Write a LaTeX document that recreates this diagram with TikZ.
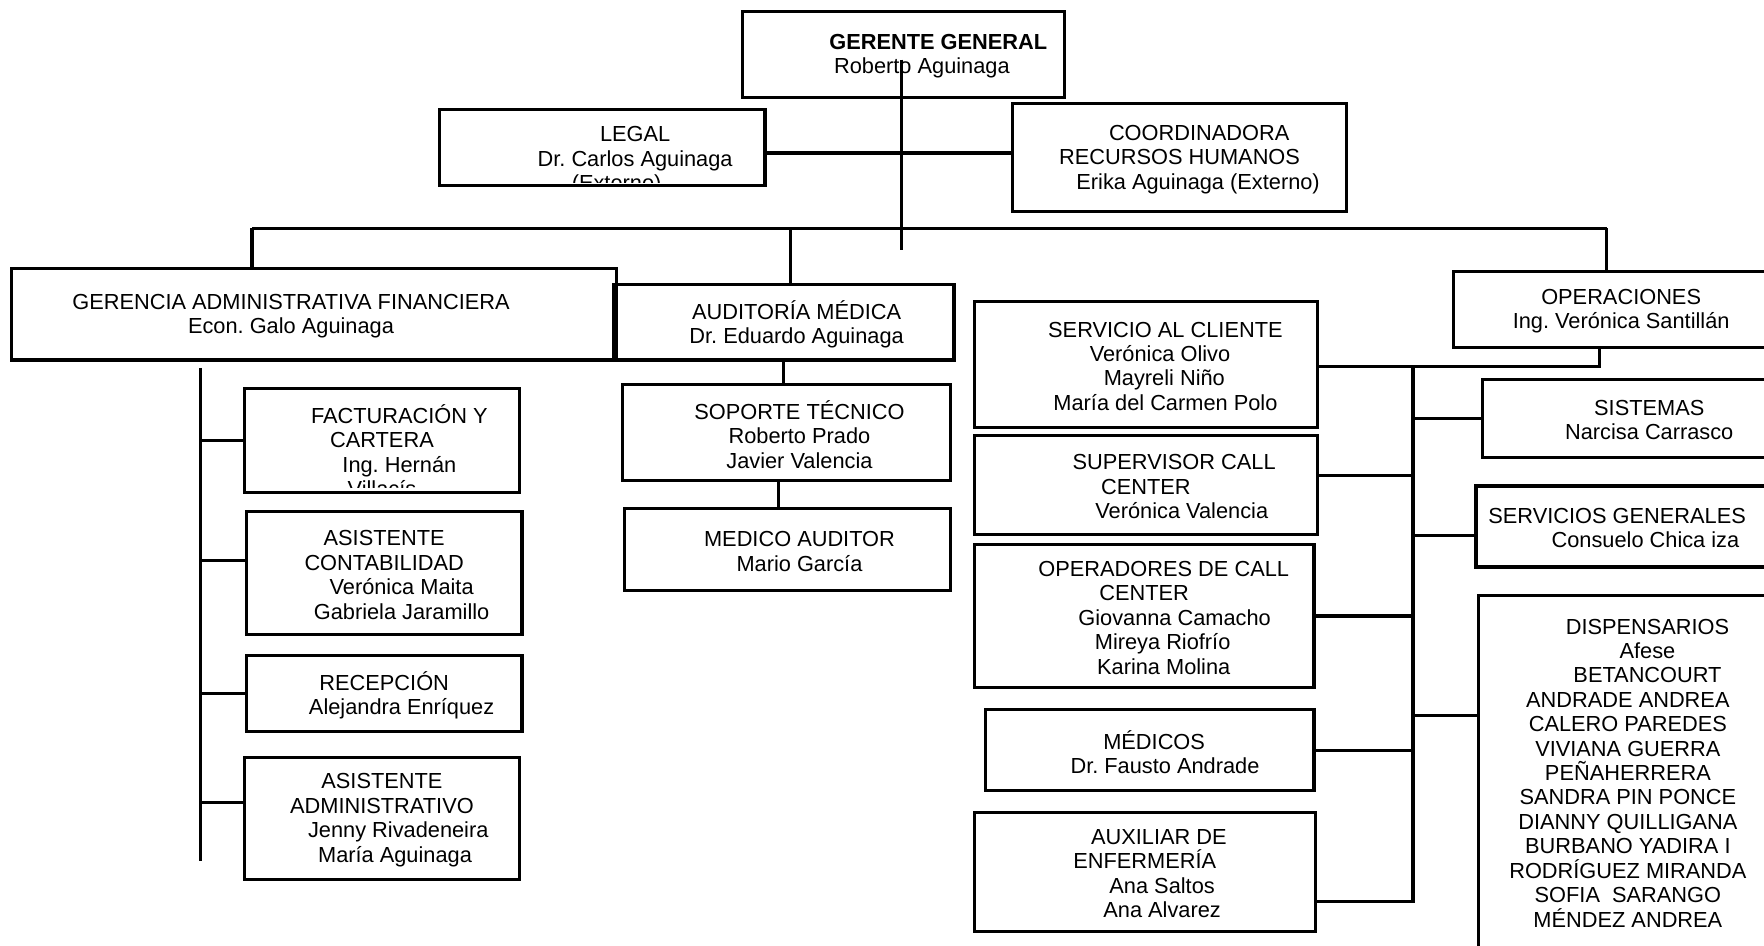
\documentclass[tikz,border=0pt]{standalone}
\usepackage{fontspec}
\setmainfont{Liberation Sans}
\usetikzlibrary{fit}

\begin{document}
\begin{tikzpicture}[x=0.0225cm,y=-0.0225cm,
    box/.style={draw, line width=1.8pt, inner sep=0pt},
    boxtext/.style={align=center, yshift=-0.035cm, font=\fontsize{12.4}{13.9}\selectfont\frenchspacing},
    link/.style={line width=1.8pt}]
    \useasboundingbox (0,0) rectangle (1568,840);
    \clip (0,0) rectangle (1568,840);
    % cajas
    \node[box, fit={(660,10) (946,87)}] (gerente) {};
    \node[box, fit={(391,97) (680,165)}] (legal) {};
    \node[box, fit={(900,92) (1197,188)}] (coord) {};
    \node[box, fit={(10,239) (548,320)}] (gerencia) {};
    \node[box, fit={(545,253) (848,320)}] (auditoria) {};
    \node[box, fit={(1292,241) (1590,309)}] (operaciones) {};
    \node[box, fit={(553,342) (845,427)}] (soporte) {};
    \node[box, fit={(555,452) (845,525)}] (medico) {};
    \node[box, fit={(217,345) (462,438)}] (factura) {};
    \node[box, fit={(219,455) (464,564)}] (contab) {};
    \node[box, fit={(219,583) (464,650)}] (recepcion) {};
    \node[box, fit={(217,673) (462,782)}] (admin) {};
    \node[box, fit={(866,268) (1171,380)}] (servicio) {};
    \node[box, fit={(866,387) (1171,475)}] (supervisor) {};
    \node[box, fit={(866,484) (1168,611)}] (operadores) {};
    \node[box, fit={(876,631) (1168,703)}] (medicos) {};
    \node[box, fit={(866,722) (1169,828)}] (auxiliar) {};
    \node[box, fit={(1318,337) (1614,407)}] (sistemas) {};
    \node[box, fit={(1312,432) (1590,504)}] (servgen) {};
    \node[box, fit={(1314,529) (1580,842)}] (dispensarios) {};
    % textos
    \node[boxtext] (gerenteText) at (gerente.center) {\hspace*{3.2em}\textbf{GERENTE GENERAL}\\\hspace*{1.7em}Roberto Aguinaga};
    \begin{scope}
    \clip ([yshift=0.1cm]legal.south west) rectangle (legal.north east);
    \node[boxtext, yshift=-0.235cm] (legalText) at (legal.center) {\hspace*{3em}LEGAL\\\hspace*{3em}Dr. Carlos Aguinaga\\\hspace*{1.3em}(Externo)};
    \end{scope}
    \node[boxtext] (coordText) at (coord.center) {\hspace*{1.8em}COORDINADORA\\RECURSOS HUMANOS\\\hspace*{1.7em}Erika Aguinaga (Externo)};
    \node[boxtext] (gerenciaText) at (gerencia.center) {GERENCIA ADMINISTRATIVA FINANCIERA\hspace*{2.1em}\\Econ. Galo Aguinaga\hspace*{2.1em}};
    \node[boxtext] (auditoriaText) at (auditoria.center) {\hspace*{1.2em}AUDITORÍA MÉDICA\\\hspace*{1.2em}Dr. Eduardo Aguinaga};
    \node[boxtext] (operacionesText) at (operaciones.center) {OPERACIONES\\Ing. Verónica Santillán};
    \node[boxtext] (soporteText) at (soporte.center) {\hspace*{1.2em}SOPORTE TÉCNICO\\\hspace*{1.2em}Roberto Prado\\\hspace*{1.2em}Javier Valencia};
    \node[boxtext] (medicoText) at (medico.center) {\hspace*{1.1em}MEDICO AUDITOR\\\hspace*{1.1em}Mario García};
    \begin{scope}
    \clip ([yshift=0.14cm]factura.south west) rectangle (factura.north east);
    \node[boxtext, yshift=-0.17cm] (facturaText) at (factura.center) {\hspace*{1.6em}FACTURACIÓN Y\\CARTERA\\\hspace*{1.6em}Ing. Hernán\\Villacís};
    \end{scope}
    \node[boxtext] (contabText) at (contab.center) {ASISTENTE\\CONTABILIDAD\hspace*{1.3em}\\\hspace*{1.6em}Verónica Maita\\\hspace*{1.6em}Gabriela Jaramillo};
    \node[boxtext] (recepcionText) at (recepcion.center) {RECEPCIÓN\\\hspace*{1.6em}Alejandra Enríquez};
    \node[boxtext] (adminText) at (admin.center) {ASISTENTE\\ADMINISTRATIVO\hspace*{2.4em}\\\hspace*{1.5em}Jenny Rivadeneira\\\hspace*{1.2em}María Aguinaga};
    \node[boxtext] (servicioText) at (servicio.center) {\hspace*{1.8em}SERVICIO AL CLIENTE\\\hspace*{1.3em}Verónica Olivo\\\hspace*{1.7em}Mayreli Niño\\\hspace*{1.8em}María del Carmen Polo};
    \node[boxtext] (supervisorText) at (supervisor.center) {\hspace*{2.6em}SUPERVISOR CALL\\CENTER\hspace*{0.3em}\\\hspace*{3.3em}Verónica Valencia};
    \node[boxtext] (operadoresText) at (operadores.center) {\hspace*{1.8em}OPERADORES DE CALL\\CENTER\\\hspace*{2.8em}Giovanna Camacho\\\hspace*{1.7em}Mireya Riofrío\\\hspace*{1.8em}Karina Molina};
    \node[boxtext] (medicosText) at (medicos.center) {\hspace*{0.4em}MÉDICOS\\\hspace*{1.4em}Dr. Fausto Andrade};
    \node[boxtext] (auxiliarText) at (auxiliar.center) {\hspace*{1.3em}AUXILIAR DE\\ENFERMERÍA\hspace*{1.1em}\\\hspace*{1.6em}Ana Saltos\\\hspace*{1.6em}Ana Alvarez};
    \node[boxtext] (sistemasText) at (sistemas.center) {SISTEMAS\\Narcisa Carrasco};
    \node[boxtext] (servgenText) at (servgen.center) {SERVICIOS GENERALES\hspace*{1.4em}\\\hspace*{1.2em}Consuelo Chica iza};
    \node[boxtext] (dispensariosText) at (dispensarios.center) {\hspace*{1.8em}DISPENSARIOS\\\hspace*{1.8em}Afese\\\hspace*{1.8em}BETANCOURT\\ANDRADE ANDREA\\CALERO PAREDES\\VIVIANA GUERRA\\PEÑAHERRERA\\SANDRA PIN PONCE\\DIANNY QUILLIGANA\\BURBANO YADIRA I\\RODRÍGUEZ MIRANDA\\SOFIA\ \ SARANGO\\MÉNDEZ ANDREA};
    % lineas
    \coordinate (trunktop) at (801,53);
    \coordinate (trunkbot) at (801,222);
    \coordinate (hr) at (801,136);
    \coordinate (busL) at (224,203);
    \coordinate (busA) at (703,203);
    \coordinate (busR) at (1428,203);
    \coordinate (colTop) at (178,327);
    \coordinate (colBot) at (178,765);
    \coordinate (opsTop) at (1256,326);
    \coordinate (opsBot) at (1256,802);
    \coordinate (opsDrop) at (1422,309);
    \draw[link] (trunktop) -- (trunkbot);
    \draw[link] (legal.east |- hr) -- (coord.west |- hr);
    \draw[link] (busL) -- (busR);
    \draw[link] (busL) -- (busL |- gerencia.north);
    \draw[link] (busA) -- (busA |- auditoria.north);
    \draw[link] (busR) -- (busR |- operaciones.north);
    \draw[link] (auditoria.south) -- (auditoria.south |- soporte.north);
    \draw[link] ([xshift=-0.16cm]soporte.south) -- ([xshift=-0.16cm]soporte.south |- medico.north);
    \draw[link] (colTop) -- (colBot);
    \draw[link] (colTop |- factura.west) -- (factura.west);
    \draw[link] ([yshift=0.25cm]contab.west) -- ++(-41,0);
    \draw[link] (colTop |- recepcion.west) -- (recepcion.west);
    \draw[link] ([yshift=0.32cm]admin.west) -- ++(-39,0);
    \draw[link] (servicio.east |- opsTop) -| (opsDrop);
    \draw[link] (opsTop) -- (opsBot);
    \draw[link] (opsTop |- sistemas.west) -- (sistemas.west);
    \draw[link] ([yshift=0.18cm]supervisor.east) -- ++(85,0);
    \draw[link] ([yshift=-0.18cm]servgen.west) -- ++(-56,0);
    \draw[link] (operadores.east) -- (operadores.east -| opsTop);
    \draw[link] (medicos.east) -- (medicos.east -| opsTop);
    \draw[link] ([yshift=1.11cm]dispensarios.west) -- ++(-58,0);
    \draw[link] ([yshift=-0.6cm]auxiliar.east) -- ++(87,0);
\end{tikzpicture}
\end{document}
